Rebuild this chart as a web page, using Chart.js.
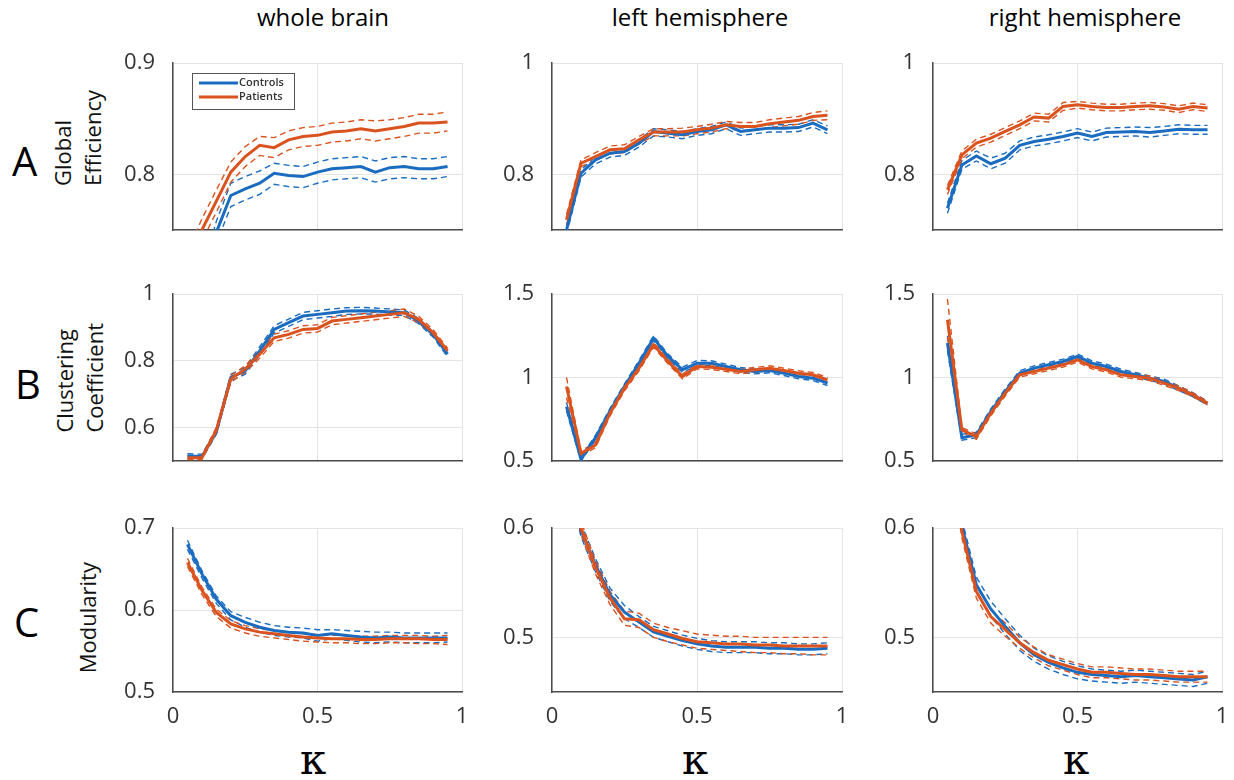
<!DOCTYPE html>
<html lang="en">
<head>
<meta charset="UTF-8" />
<title>Network measures across kappa</title>
<script src="https://cdn.jsdelivr.net/npm/chart.js"></script>
<style>
  body { margin: 0; background: #fff; }
  #page { position: relative; width: 1234px; height: 780px; overflow: hidden; font-family: "Open Sans", sans-serif; }
  #page canvas { position: absolute; }
  .title { position: absolute; width: 300px; text-align: center; font-size: 24px; line-height: 1; top: 5px; color: #000; }
  .letter { position: absolute; font-size: 40px; line-height: 1; color: #000; }
  .ylab { position: absolute; writing-mode: vertical-rl; transform: rotate(180deg); font-size: 22px; line-height: 30px; color: #111; white-space: nowrap; }
  .kappa { position: absolute; width: 60px; text-align: center; font-family: "DejaVu Serif", serif; font-size: 42px; line-height: 1; top: 739px; color: #000; }
</style>
</head>
<body>
<div id="page">
  <div class="title" style="left:173px">whole brain</div>
  <div class="title" style="left:550px">left hemisphere</div>
  <div class="title" style="left:935px">right hemisphere</div>

  <div class="letter" style="left:12px; top:141px">A</div>
  <div class="letter" style="left:15px; top:364px">B</div>
  <div class="letter" style="left:14px; top:602px">C</div>

  <div class="ylab" style="left:47px; bottom:594px">Global<br>Efficiency</div>
  <div class="ylab" style="left:49px; bottom:347px">Clustering<br>Coefficient</div>
  <div class="ylab" style="left:72px; bottom:107px">Modularity</div>

  <div class="kappa" style="left:283px">κ</div>
  <div class="kappa" style="left:665px">κ</div>
  <div class="kappa" style="left:1046px">κ</div>
</div>

<script>
// cost / density values on the x axis
const kappa = [0.05, 0.1, 0.15, 0.2, 0.25, 0.3, 0.35, 0.4, 0.45, 0.5, 0.55, 0.6, 0.65, 0.7, 0.75, 0.8, 0.85, 0.9, 0.95];
const xTicks = [0, 0.5, 1];

// A - global efficiency
const effWholeCtrl   = [0.66, 0.70, 0.748, 0.781, 0.787, 0.792, 0.801, 0.799, 0.798, 0.802, 0.805, 0.806, 0.807, 0.802, 0.806, 0.807, 0.805, 0.805, 0.807];
const effWholeCtrlHi = [0.67, 0.71, 0.758, 0.792, 0.798, 0.803, 0.810, 0.808, 0.807, 0.811, 0.814, 0.815, 0.816, 0.812, 0.815, 0.816, 0.814, 0.814, 0.816];
const effWholeCtrlLo = [0.65, 0.69, 0.738, 0.771, 0.777, 0.782, 0.791, 0.789, 0.788, 0.792, 0.795, 0.796, 0.797, 0.793, 0.796, 0.797, 0.796, 0.796, 0.798];
const effWholePat    = [0.72, 0.75, 0.776, 0.802, 0.816, 0.826, 0.824, 0.831, 0.834, 0.835, 0.838, 0.839, 0.841, 0.839, 0.841, 0.843, 0.846, 0.846, 0.847];
const effWholePatHi  = [0.73, 0.76, 0.786, 0.811, 0.825, 0.834, 0.833, 0.839, 0.842, 0.843, 0.846, 0.847, 0.849, 0.848, 0.849, 0.851, 0.854, 0.854, 0.856];
const effWholePatLo  = [0.71, 0.74, 0.766, 0.793, 0.807, 0.817, 0.815, 0.822, 0.825, 0.826, 0.829, 0.830, 0.832, 0.830, 0.832, 0.834, 0.837, 0.837, 0.839];

const effLeftCtrl    = [0.700, 0.802, 0.826, 0.838, 0.841, 0.856, 0.877, 0.874, 0.871, 0.877, 0.880, 0.889, 0.877, 0.880, 0.883, 0.883, 0.884, 0.892, 0.880];
const effLeftCtrlHi  = [0.708, 0.808, 0.832, 0.844, 0.847, 0.862, 0.882, 0.880, 0.877, 0.882, 0.886, 0.894, 0.883, 0.886, 0.889, 0.889, 0.890, 0.898, 0.887];
const effLeftCtrlLo  = [0.692, 0.795, 0.819, 0.831, 0.834, 0.849, 0.869, 0.867, 0.864, 0.870, 0.873, 0.882, 0.870, 0.873, 0.876, 0.876, 0.877, 0.885, 0.873];
const effLeftPat     = [0.718, 0.820, 0.832, 0.844, 0.846, 0.862, 0.876, 0.876, 0.876, 0.880, 0.883, 0.889, 0.886, 0.886, 0.891, 0.894, 0.897, 0.904, 0.906];
const effLeftPatHi   = [0.728, 0.826, 0.839, 0.851, 0.853, 0.868, 0.882, 0.882, 0.883, 0.886, 0.890, 0.895, 0.893, 0.893, 0.898, 0.901, 0.904, 0.911, 0.914];
const effLeftPatLo   = [0.708, 0.814, 0.825, 0.837, 0.839, 0.855, 0.869, 0.869, 0.869, 0.873, 0.876, 0.882, 0.879, 0.879, 0.884, 0.887, 0.890, 0.897, 0.898];

const effRightCtrl   = [0.739, 0.817, 0.833, 0.819, 0.829, 0.852, 0.859, 0.863, 0.868, 0.874, 0.868, 0.875, 0.876, 0.877, 0.875, 0.878, 0.881, 0.880, 0.880];
const effRightCtrlHi = [0.748, 0.825, 0.842, 0.829, 0.838, 0.860, 0.867, 0.871, 0.876, 0.882, 0.876, 0.883, 0.884, 0.885, 0.884, 0.886, 0.889, 0.888, 0.888];
const effRightCtrlLo = [0.730, 0.809, 0.824, 0.810, 0.820, 0.844, 0.851, 0.855, 0.860, 0.866, 0.860, 0.867, 0.868, 0.869, 0.867, 0.870, 0.873, 0.872, 0.872];
const effRightPat    = [0.772, 0.835, 0.856, 0.865, 0.877, 0.889, 0.903, 0.901, 0.922, 0.925, 0.922, 0.920, 0.920, 0.922, 0.923, 0.921, 0.917, 0.922, 0.919];
const effRightPatHi  = [0.780, 0.842, 0.863, 0.872, 0.884, 0.896, 0.910, 0.908, 0.929, 0.931, 0.928, 0.926, 0.926, 0.928, 0.929, 0.927, 0.923, 0.928, 0.925];
const effRightPatLo  = [0.764, 0.828, 0.849, 0.858, 0.870, 0.882, 0.896, 0.894, 0.915, 0.919, 0.916, 0.914, 0.914, 0.916, 0.917, 0.915, 0.911, 0.916, 0.913];

// B - clustering coefficient
const clusWholeCtrl   = [0.516, 0.513, 0.587, 0.750, 0.770, 0.830, 0.894, 0.914, 0.934, 0.939, 0.944, 0.949, 0.950, 0.949, 0.946, 0.944, 0.919, 0.879, 0.820];
const clusWholeCtrlHi = [0.522, 0.520, 0.595, 0.760, 0.780, 0.842, 0.905, 0.925, 0.945, 0.950, 0.955, 0.959, 0.960, 0.958, 0.955, 0.952, 0.927, 0.887, 0.828];
const clusWholeCtrlLo = [0.508, 0.506, 0.580, 0.740, 0.760, 0.818, 0.883, 0.903, 0.923, 0.928, 0.933, 0.939, 0.940, 0.940, 0.937, 0.936, 0.911, 0.871, 0.812];
const clusWholePat    = [0.510, 0.510, 0.592, 0.746, 0.775, 0.820, 0.869, 0.879, 0.894, 0.897, 0.919, 0.924, 0.929, 0.934, 0.939, 0.944, 0.924, 0.884, 0.830];
const clusWholePatHi  = [0.516, 0.516, 0.600, 0.756, 0.785, 0.832, 0.880, 0.890, 0.905, 0.908, 0.930, 0.935, 0.940, 0.945, 0.950, 0.955, 0.934, 0.893, 0.838];
const clusWholePatLo  = [0.504, 0.504, 0.584, 0.736, 0.765, 0.808, 0.858, 0.868, 0.883, 0.886, 0.908, 0.913, 0.918, 0.923, 0.928, 0.933, 0.914, 0.875, 0.822];

const clusLeftCtrl    = [0.826, 0.510, 0.640, 0.800, 0.946, 1.086, 1.236, 1.126, 1.046, 1.086, 1.086, 1.066, 1.046, 1.036, 1.042, 1.026, 1.006, 0.996, 0.966];
const clusLeftCtrlHi  = [0.850, 0.525, 0.655, 0.815, 0.962, 1.102, 1.250, 1.140, 1.062, 1.102, 1.100, 1.080, 1.060, 1.050, 1.056, 1.040, 1.020, 1.010, 0.980];
const clusLeftCtrlLo  = [0.800, 0.500, 0.625, 0.785, 0.930, 1.070, 1.222, 1.112, 1.030, 1.070, 1.072, 1.052, 1.032, 1.022, 1.028, 1.012, 0.992, 0.982, 0.952];
const clusLeftPat     = [0.946, 0.546, 0.596, 0.786, 0.936, 1.056, 1.196, 1.096, 1.006, 1.066, 1.062, 1.050, 1.036, 1.046, 1.056, 1.042, 1.026, 1.016, 0.986];
const clusLeftPatHi   = [1.000, 0.560, 0.612, 0.802, 0.952, 1.072, 1.210, 1.110, 1.020, 1.080, 1.076, 1.064, 1.050, 1.060, 1.070, 1.056, 1.040, 1.030, 1.000];
const clusLeftPatLo   = [0.880, 0.532, 0.580, 0.770, 0.920, 1.040, 1.182, 1.082, 0.992, 1.052, 1.048, 1.036, 1.022, 1.032, 1.042, 1.028, 1.012, 1.002, 0.972];

const clusRightCtrl   = [1.206, 0.640, 0.656, 0.796, 0.916, 1.026, 1.056, 1.076, 1.096, 1.126, 1.086, 1.066, 1.036, 1.016, 0.996, 0.976, 0.936, 0.896, 0.846];
const clusRightCtrlHi = [1.250, 0.660, 0.672, 0.812, 0.932, 1.040, 1.070, 1.090, 1.110, 1.140, 1.100, 1.080, 1.050, 1.030, 1.010, 0.990, 0.950, 0.908, 0.856];
const clusRightCtrlLo = [1.160, 0.625, 0.640, 0.780, 0.900, 1.012, 1.042, 1.062, 1.082, 1.112, 1.072, 1.052, 1.022, 1.002, 0.982, 0.962, 0.922, 0.884, 0.836];
const clusRightPat    = [1.346, 0.686, 0.646, 0.786, 0.906, 1.016, 1.036, 1.056, 1.076, 1.106, 1.066, 1.046, 1.016, 1.006, 0.996, 0.966, 0.936, 0.896, 0.846];
const clusRightPatHi  = [1.470, 0.700, 0.662, 0.802, 0.922, 1.030, 1.050, 1.070, 1.090, 1.120, 1.080, 1.060, 1.030, 1.020, 1.010, 0.980, 0.950, 0.908, 0.856];
const clusRightPatLo  = [1.240, 0.672, 0.630, 0.770, 0.890, 1.002, 1.022, 1.042, 1.062, 1.092, 1.052, 1.032, 1.002, 0.992, 0.982, 0.952, 0.922, 0.884, 0.836];

// C - modularity
const modWholeCtrl   = [0.680, 0.644, 0.613, 0.593, 0.585, 0.579, 0.575, 0.573, 0.572, 0.569, 0.571, 0.569, 0.567, 0.566, 0.567, 0.566, 0.566, 0.566, 0.566];
const modWholeCtrlHi = [0.685, 0.648, 0.617, 0.598, 0.591, 0.585, 0.581, 0.579, 0.578, 0.576, 0.576, 0.575, 0.574, 0.573, 0.573, 0.572, 0.572, 0.572, 0.572];
const modWholeCtrlLo = [0.674, 0.639, 0.608, 0.588, 0.579, 0.573, 0.569, 0.567, 0.566, 0.562, 0.565, 0.563, 0.561, 0.560, 0.561, 0.560, 0.560, 0.560, 0.561];
const modWholePat    = [0.658, 0.624, 0.597, 0.583, 0.577, 0.573, 0.571, 0.569, 0.567, 0.566, 0.565, 0.565, 0.564, 0.564, 0.565, 0.565, 0.565, 0.564, 0.564];
const modWholePatHi  = [0.663, 0.628, 0.601, 0.587, 0.581, 0.577, 0.575, 0.573, 0.571, 0.570, 0.569, 0.569, 0.568, 0.568, 0.569, 0.569, 0.569, 0.568, 0.569];
const modWholePatLo  = [0.653, 0.619, 0.592, 0.578, 0.572, 0.568, 0.566, 0.564, 0.562, 0.561, 0.560, 0.560, 0.559, 0.559, 0.560, 0.560, 0.559, 0.559, 0.558];

const modLeftCtrl    = [0.660, 0.598, 0.566, 0.539, 0.523, 0.514, 0.505, 0.501, 0.497, 0.494, 0.492, 0.491, 0.491, 0.491, 0.490, 0.490, 0.489, 0.489, 0.490];
const modLeftCtrlHi  = [0.668, 0.604, 0.572, 0.545, 0.529, 0.519, 0.510, 0.506, 0.502, 0.499, 0.497, 0.496, 0.496, 0.496, 0.495, 0.495, 0.494, 0.494, 0.495];
const modLeftCtrlLo  = [0.652, 0.592, 0.560, 0.533, 0.517, 0.509, 0.500, 0.496, 0.492, 0.489, 0.487, 0.486, 0.486, 0.486, 0.485, 0.485, 0.484, 0.484, 0.485];
const modLeftPat     = [0.665, 0.600, 0.564, 0.536, 0.517, 0.516, 0.507, 0.503, 0.499, 0.496, 0.495, 0.494, 0.494, 0.493, 0.493, 0.492, 0.492, 0.492, 0.492];
const modLeftPatHi   = [0.675, 0.606, 0.570, 0.542, 0.524, 0.522, 0.513, 0.509, 0.506, 0.503, 0.502, 0.501, 0.501, 0.500, 0.500, 0.500, 0.500, 0.500, 0.500];
const modLeftPatLo   = [0.655, 0.594, 0.558, 0.530, 0.511, 0.509, 0.500, 0.496, 0.493, 0.490, 0.489, 0.488, 0.487, 0.486, 0.486, 0.485, 0.485, 0.484, 0.484];

const modRightCtrl   = [0.700, 0.602, 0.548, 0.526, 0.510, 0.495, 0.484, 0.477, 0.472, 0.468, 0.466, 0.465, 0.464, 0.465, 0.464, 0.463, 0.462, 0.461, 0.464];
const modRightCtrlHi = [0.708, 0.608, 0.555, 0.533, 0.517, 0.502, 0.490, 0.483, 0.478, 0.474, 0.471, 0.470, 0.469, 0.470, 0.469, 0.468, 0.467, 0.466, 0.469];
const modRightCtrlLo = [0.692, 0.596, 0.541, 0.519, 0.503, 0.488, 0.478, 0.471, 0.466, 0.462, 0.460, 0.459, 0.458, 0.459, 0.458, 0.457, 0.456, 0.455, 0.458];
const modRightPat    = [0.690, 0.597, 0.542, 0.519, 0.507, 0.495, 0.486, 0.479, 0.475, 0.471, 0.468, 0.468, 0.467, 0.466, 0.466, 0.465, 0.464, 0.464, 0.464];
const modRightPatHi  = [0.698, 0.603, 0.548, 0.525, 0.513, 0.500, 0.491, 0.484, 0.480, 0.476, 0.473, 0.473, 0.472, 0.471, 0.471, 0.470, 0.469, 0.469, 0.469];
const modRightPatLo  = [0.682, 0.591, 0.536, 0.513, 0.501, 0.490, 0.481, 0.474, 0.470, 0.466, 0.463, 0.463, 0.462, 0.461, 0.461, 0.460, 0.459, 0.459, 0.459];

// y axis ranges and tick labels per row/column
const yRangeEffWhole = [0.75, 0.9],  yTicksEffWhole = [0.8, 0.9];
const yRangeEffHemi  = [0.7, 1],     yTicksEffHemi  = [0.8, 1];
const yRangeClusWhole = [0.5, 1],    yTicksClusWhole = [0.6, 0.8, 1];
const yRangeClusHemi  = [0.5, 1.5],  yTicksClusHemi  = [0.5, 1, 1.5];
const yRangeModWhole = [0.5, 0.7],   yTicksModWhole = [0.5, 0.6, 0.7];
const yRangeModHemi  = [0.45, 0.6],  yTicksModHemi  = [0.5, 0.6];

const BLUE = '#1a6cc0';
const ORANGE = '#da531f';

const panels = [
  { row: 0, col: 0, range: yRangeEffWhole, ticks: yTicksEffWhole, ctrl: [effWholeCtrl, effWholeCtrlHi, effWholeCtrlLo], pat: [effWholePat, effWholePatHi, effWholePatLo], legend: true },
  { row: 0, col: 1, range: yRangeEffHemi, ticks: yTicksEffHemi, ctrl: [effLeftCtrl, effLeftCtrlHi, effLeftCtrlLo], pat: [effLeftPat, effLeftPatHi, effLeftPatLo] },
  { row: 0, col: 2, range: yRangeEffHemi, ticks: yTicksEffHemi, ctrl: [effRightCtrl, effRightCtrlHi, effRightCtrlLo], pat: [effRightPat, effRightPatHi, effRightPatLo] },
  { row: 1, col: 0, range: yRangeClusWhole, ticks: yTicksClusWhole, ctrl: [clusWholeCtrl, clusWholeCtrlHi, clusWholeCtrlLo], pat: [clusWholePat, clusWholePatHi, clusWholePatLo] },
  { row: 1, col: 1, range: yRangeClusHemi, ticks: yTicksClusHemi, ctrl: [clusLeftCtrl, clusLeftCtrlHi, clusLeftCtrlLo], pat: [clusLeftPat, clusLeftPatHi, clusLeftPatLo] },
  { row: 1, col: 2, range: yRangeClusHemi, ticks: yTicksClusHemi, ctrl: [clusRightCtrl, clusRightCtrlHi, clusRightCtrlLo], pat: [clusRightPat, clusRightPatHi, clusRightPatLo] },
  { row: 2, col: 0, range: yRangeModWhole, ticks: yTicksModWhole, ctrl: [modWholeCtrl, modWholeCtrlHi, modWholeCtrlLo], pat: [modWholePat, modWholePatHi, modWholePatLo] },
  { row: 2, col: 1, range: yRangeModHemi, ticks: yTicksModHemi, ctrl: [modLeftCtrl, modLeftCtrlHi, modLeftCtrlLo], pat: [modLeftPat, modLeftPatHi, modLeftPatLo] },
  { row: 2, col: 2, range: yRangeModHemi, ticks: yTicksModHemi, ctrl: [modRightCtrl, modRightCtrlHi, modRightCtrlLo], pat: [modRightPat, modRightPatHi, modRightPatLo] }
];

// plot box edges on the page
const COLS = [[173, 462], [552, 842], [933, 1222]];
const ROWS = [[63, 230], [294, 461], [528, 692]];
const AXW = 64, PAD = 16;

// small boxed legend in the top-left corner of a panel
const boxLegend = {
  id: 'boxLegend',
  afterDatasetsDraw(chart, args, opts) {
    if (!opts.show) return;
    const ctx = chart.ctx, a = chart.chartArea;
    const items = chart.data.datasets.filter(d => d.legendRank !== undefined)
      .sort((p, q) => p.legendRank - q.legendRank);
    const x0 = a.left + 19, y0 = a.top + 10, w = 102, h = 36;
    ctx.save();
    ctx.fillStyle = '#fff';
    ctx.fillRect(x0, y0, w, h);
    ctx.strokeStyle = '#555';
    ctx.lineWidth = 1;
    ctx.strokeRect(x0 + 0.5, y0 + 0.5, w, h);
    ctx.font = '600 11px "Open Sans"';
    ctx.textBaseline = 'middle';
    items.forEach((d, i) => {
      const y = y0 + 10 + i * 14;
      ctx.strokeStyle = d.borderColor;
      ctx.lineWidth = 3;
      ctx.beginPath();
      ctx.moveTo(x0 + 7, y);
      ctx.lineTo(x0 + 46, y);
      ctx.stroke();
      ctx.fillStyle = '#333';
      ctx.fillText(d.label, x0 + 47, y);
    });
    ctx.restore();
  }
};

const page = document.getElementById('page');
const pts = arr => arr.map((v, i) => ({ x: kappa[i], y: v }));

panels.forEach(p => {
  const [L, R] = COLS[p.col];
  const [T, B] = ROWS[p.row];
  const bottomRow = p.row === 2;
  const xh = bottomRow ? 44 : 14;

  const cv = document.createElement('canvas');
  cv.width = (R - L) + AXW + PAD;
  cv.height = (B - T) + PAD + xh;
  cv.style.left = (L - AXW) + 'px';
  cv.style.top = (T - PAD) + 'px';
  page.appendChild(cv);

  const solid = (label, color, arr, rank) => ({
    label, data: pts(arr), borderColor: color, borderWidth: 3,
    pointRadius: 0, clip: 0, legendRank: rank
  });
  const dashed = (color, arr) => ({
    label: '', data: pts(arr), borderColor: color, borderWidth: 1.4,
    borderDash: [6, 4], pointRadius: 0, clip: 0
  });

  new Chart(cv, {
    type: 'line',
    data: {
      // first dataset is drawn on top
      datasets: [
        solid('Patients', ORANGE, p.pat[0], 1),
        solid('Controls', BLUE, p.ctrl[0], 0),
        dashed(ORANGE, p.pat[1]),
        dashed(ORANGE, p.pat[2]),
        dashed(BLUE, p.ctrl[1]),
        dashed(BLUE, p.ctrl[2])
      ]
    },
    options: {
      responsive: false,
      animation: false,
      events: [],
      layout: { padding: { top: PAD, right: PAD, bottom: 0, left: 0 } },
      plugins: {
        legend: { display: false },
        tooltip: { enabled: false },
        boxLegend: { show: !!p.legend }
      },
      scales: {
        x: {
          type: 'linear', min: 0, max: 1,
          afterBuildTicks: s => { s.ticks = xTicks.map(v => ({ value: v })); },
          afterFit: s => { s.height = xh; s.paddingLeft = s.paddingRight = 0; },
          grid: { color: '#e4e4e4', drawTicks: false },
          border: { color: '#4a4a4a', width: 1.5 },
          ticks: {
            display: bottomRow, padding: 12, color: '#333',
            font: { family: 'Open Sans', size: 22 },
            callback: v => String(v)
          }
        },
        y: {
          min: p.range[0], max: p.range[1],
          afterBuildTicks: s => { s.ticks = p.ticks.map(v => ({ value: v })); },
          afterFit: s => { s.width = AXW; s.paddingTop = s.paddingBottom = 0; },
          grid: { color: '#e4e4e4', drawTicks: false },
          border: { color: '#4a4a4a', width: 1.5 },
          ticks: {
            padding: 18, color: '#333',
            font: { family: 'Open Sans', size: 22 },
            callback: v => String(v)
          }
        }
      }
    },
    plugins: [boxLegend]
  });
});
</script>
</body>
</html>
